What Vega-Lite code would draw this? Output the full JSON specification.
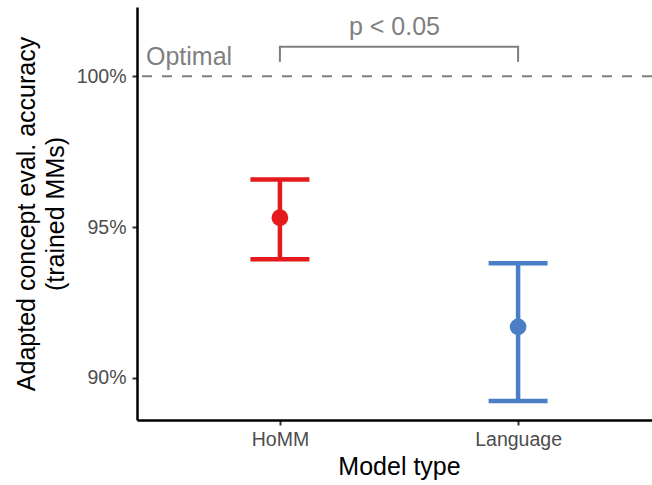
{
  "$schema": "https://vega.github.io/schema/vega-lite/v6.json",
  "autosize": {"type": "none"},
  "padding": {"left": 137, "top": 7, "right": 0, "bottom": 65},
  "width": 515,
  "height": 413,
  "background": "white",
  "config": {
    "view": {"stroke": null},
    "font": "Liberation Sans",
    "axis": {
      "domainColor": "black",
      "domainWidth": 2.5,
      "tickColor": "#333333",
      "tickWidth": 2,
      "tickSize": 5,
      "labelFont": "Liberation Sans",
      "labelFontSize": 19.5,
      "labelColor": "#4d4d4d",
      "titleFont": "Liberation Sans",
      "titleFontSize": 25,
      "titleFontWeight": "normal",
      "titleColor": "black",
      "grid": false
    }
  },
  "datasets": {
    "results": [
      {"model": "HoMM", "mean": 95.31, "lo": 93.93, "hi": 96.58},
      {"model": "Language", "mean": 91.69, "lo": 89.23, "hi": 93.8}
    ],
    "bracket": [
      {"from": "HoMM", "to": "Language", "top": 100.98, "foot": 100.48}
    ]
  },
  "layer": [
    {
      "data": {"name": "results"},
      "layer": [
        {
          "mark": {"type": "rule", "strokeWidth": 4.5},
          "encoding": {
            "y": {"field": "lo", "type": "quantitative"},
            "y2": {"field": "hi"}
          }
        },
        {
          "mark": {"type": "tick", "orient": "horizontal", "size": 59, "thickness": 4.5, "opacity": 1},
          "encoding": {"y": {"field": "lo", "type": "quantitative"}}
        },
        {
          "mark": {"type": "tick", "orient": "horizontal", "size": 59, "thickness": 4.5, "opacity": 1},
          "encoding": {"y": {"field": "hi", "type": "quantitative"}}
        },
        {
          "mark": {"type": "point", "filled": true, "size": 280, "opacity": 1, "shape": "circle"},
          "encoding": {"y": {"field": "mean", "type": "quantitative"}}
        }
      ],
      "encoding": {
        "x": {
          "field": "model",
          "type": "nominal",
          "scale": {"type": "point", "domain": ["HoMM", "Language"], "range": [0, 524], "padding": 0.6},
          "axis": {"title": "Model type", "labelAngle": 0, "labelPadding": 5, "titlePadding": 6}
        },
        "color": {
          "field": "model",
          "type": "nominal",
          "scale": {"domain": ["HoMM", "Language"], "range": ["#e41a1c", "#4a7fc8"]},
          "legend": null
        }
      }
    },
    {
      "data": {"values": [{"optimal": 100}]},
      "mark": {"type": "rule", "color": "#7f7f7f", "strokeWidth": 2, "strokeDash": [10, 10]},
      "encoding": {"y": {"field": "optimal", "type": "quantitative"}}
    },
    {
      "data": {"values": [{"label": "Optimal", "optimal": 100}]},
      "mark": {"type": "text", "align": "left", "baseline": "alphabetic", "dx": 9, "dy": -11, "fontSize": 25, "color": "#7f7f7f", "font": "Liberation Sans"},
      "encoding": {
        "x": {"value": 0},
        "y": {"field": "optimal", "type": "quantitative"},
        "text": {"field": "label"}
      }
    },
    {
      "data": {"name": "bracket"},
      "mark": {"type": "rule", "color": "#7f7f7f", "strokeWidth": 2, "strokeCap": "square"},
      "encoding": {
        "x": {"field": "from", "type": "nominal"},
        "x2": {"field": "to"},
        "y": {"field": "top", "type": "quantitative"}
      }
    },
    {
      "data": {"name": "bracket"},
      "transform": [{"fold": ["from", "to"], "as": ["end", "model"]}],
      "mark": {"type": "rule", "color": "#7f7f7f", "strokeWidth": 2},
      "encoding": {
        "x": {"field": "model", "type": "nominal"},
        "y": {"field": "foot", "type": "quantitative"},
        "y2": {"field": "top"}
      }
    },
    {
      "data": {"values": [{"label": "p < 0.05", "top": 100.98}]},
      "mark": {"type": "text", "align": "center", "baseline": "alphabetic", "dy": -12, "fontSize": 25, "color": "#7f7f7f", "font": "Liberation Sans"},
      "encoding": {
        "x": {"signal": "(scale('x', 'HoMM') + scale('x', 'Language')) / 2"},
        "y": {"field": "top", "type": "quantitative"},
        "text": {"field": "label"}
      }
    }
  ],
  "resolve": {"scale": {"x": "shared", "y": "shared"}},
  "encoding": {
    "y": {
      "type": "quantitative",
      "scale": {"domain": [88.6, 102.3], "nice": false, "zero": false},
      "axis": {
        "title": ["Adapted concept eval. accuracy", "(trained MMs)"],
        "titleLineHeight": 29,
        "values": [90, 95, 100],
        "labelExpr": "datum.value + '%'",
        "labelPadding": 6,
        "titlePadding": 8
      }
    }
  }
}
